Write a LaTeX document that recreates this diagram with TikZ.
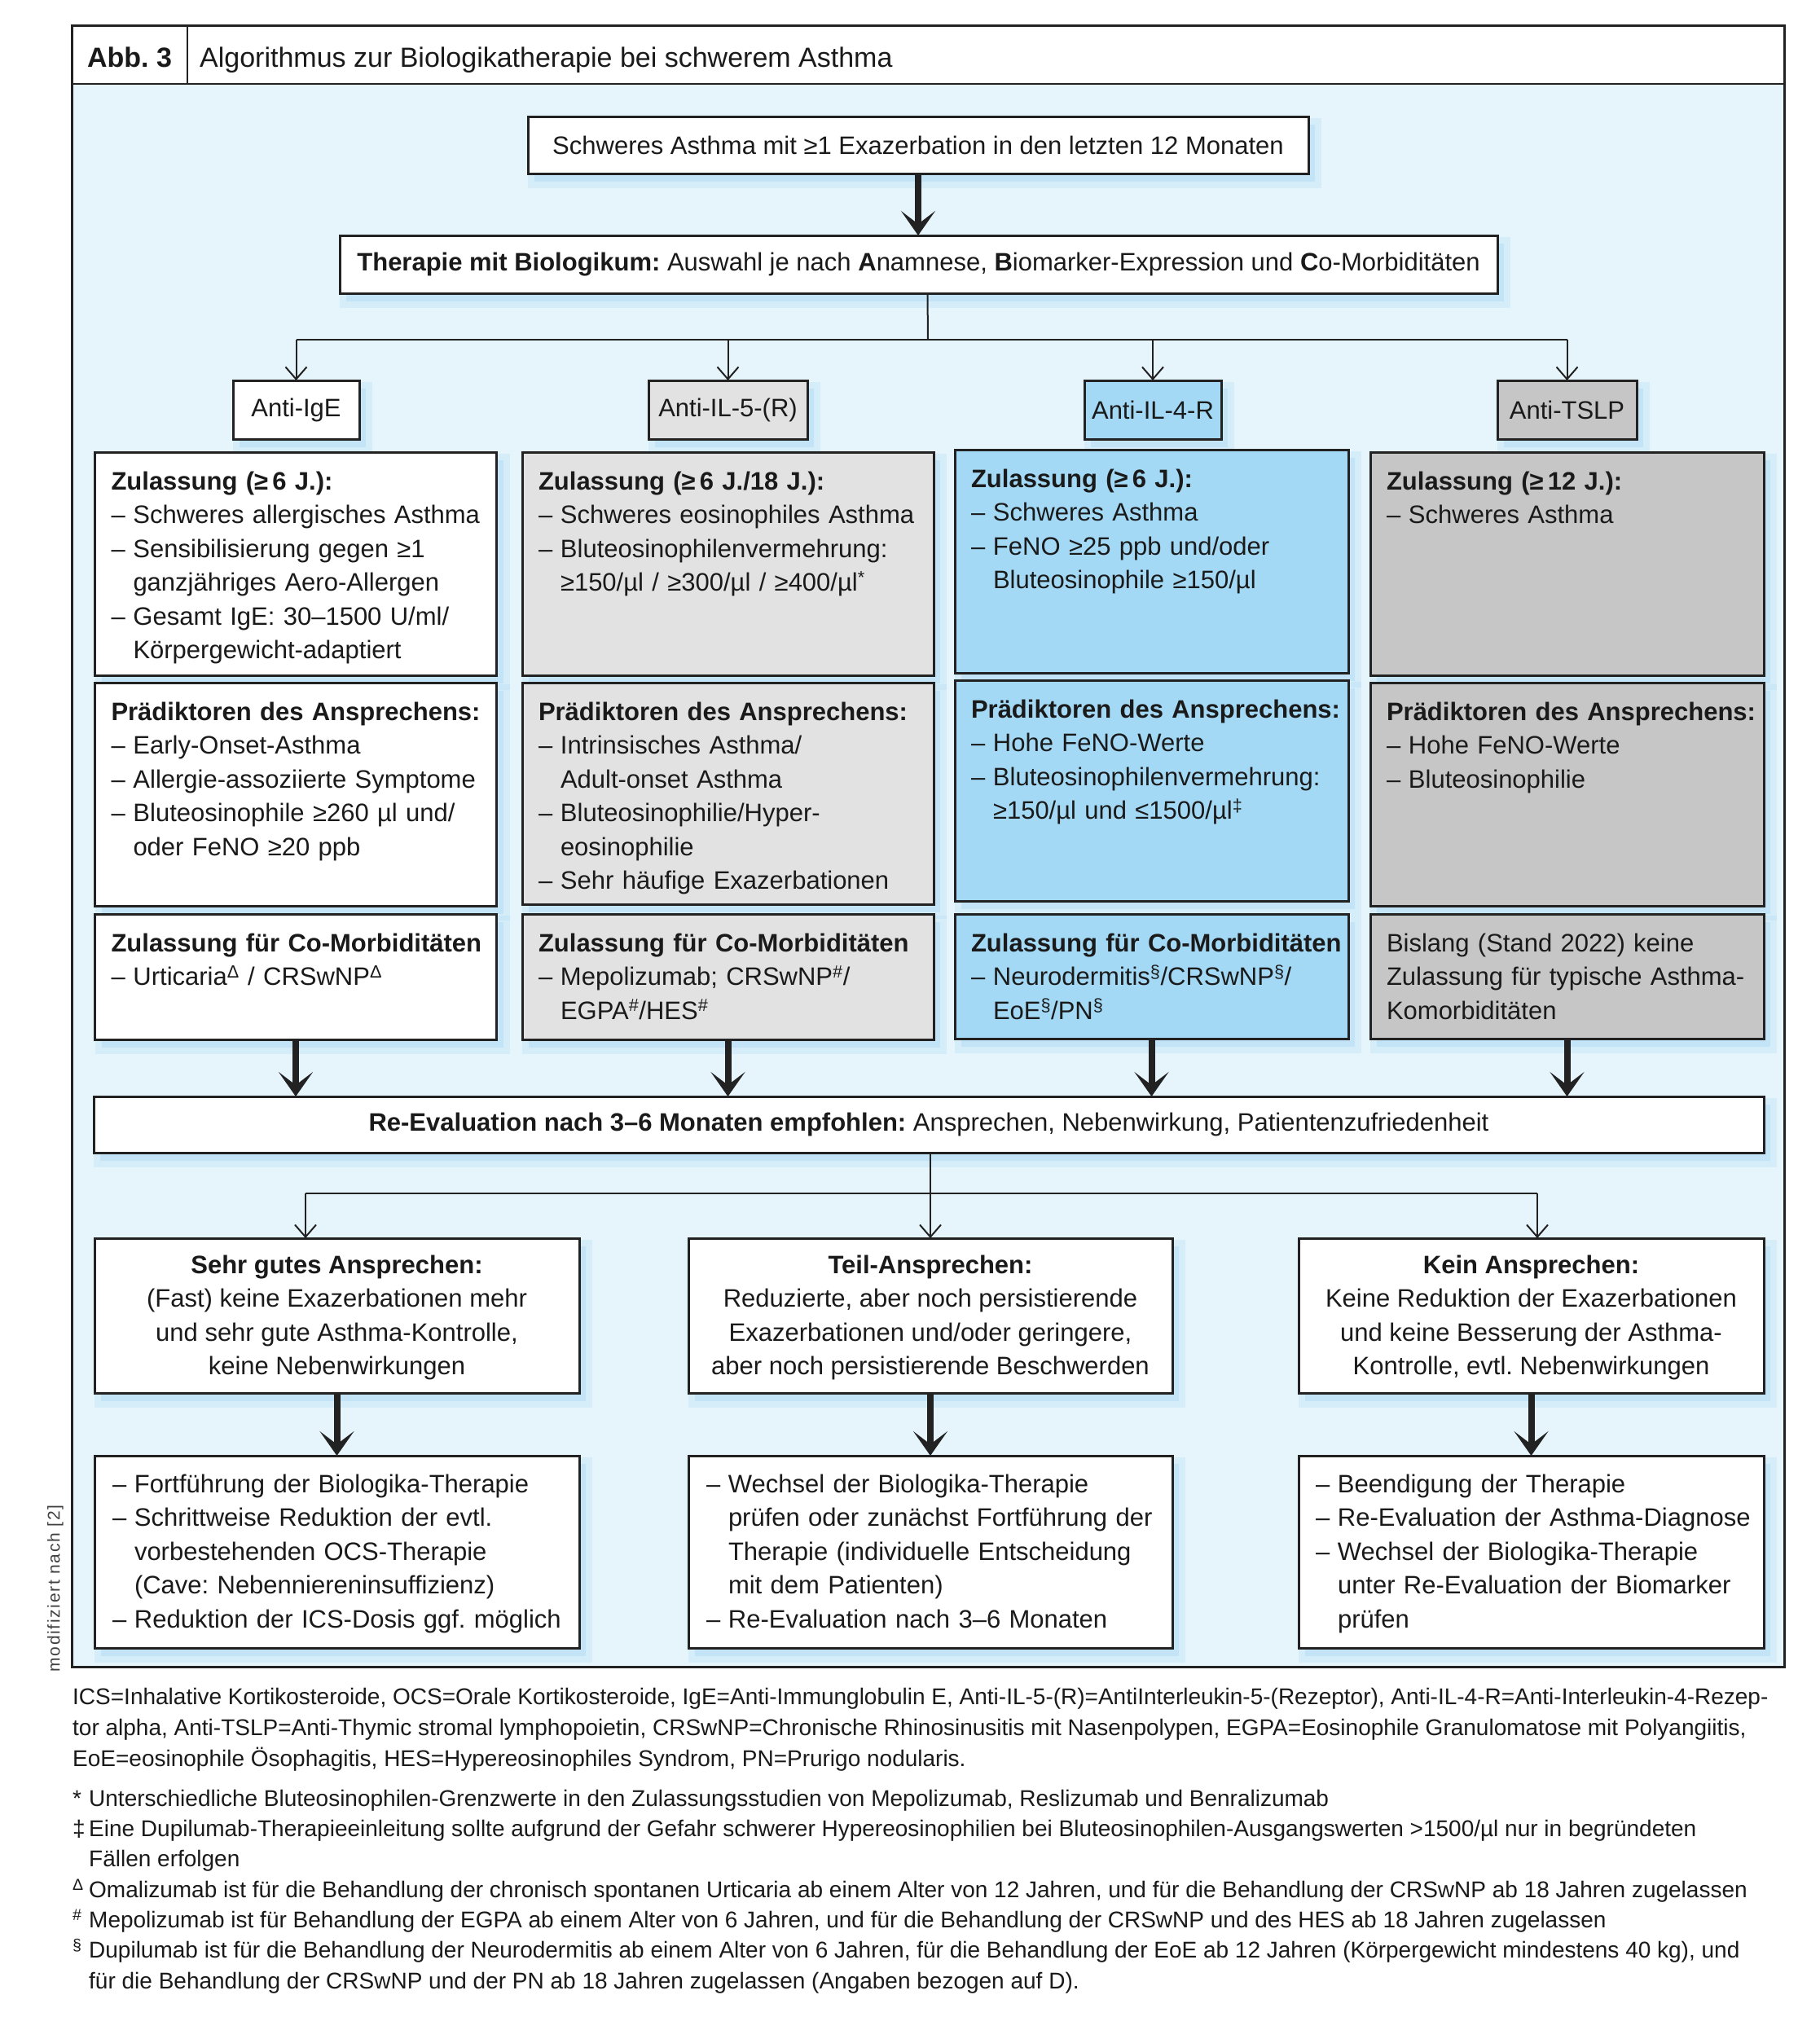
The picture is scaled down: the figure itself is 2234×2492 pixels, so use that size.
\documentclass[tikz,border=0pt]{standalone}
\usepackage{fontspec}
\setmainfont{Liberation Sans}
\newfontfamily\sidefont{Liberation Sans}[LetterSpace=8]
\usetikzlibrary{arrows.meta,calc}
\AtBeginDocument{\frenchspacing}
\definecolor{bodybg}{HTML}{E6F4FC}
\definecolor{shadowc}{HTML}{B8DFF6}
\definecolor{grayA}{HTML}{E2E2E2}
\definecolor{grayB}{HTML}{C6C6C6}
\definecolor{blueA}{HTML}{A3D9F5}
\definecolor{linec}{HTML}{222222}
\definecolor{txtc}{HTML}{1A1A1A}
\newcommand{\fl}{\rule{0pt}{30pt}}
\newcommand{\dl}{\makebox[27pt][l]{–}}
\newcommand{\il}{\hspace*{27pt}}
\newcommand{\sps}[1]{\textsuperscript{#1}}
\newcommand{\fsym}[1]{\makebox[20pt][l]{#1}}
\tikzset{
  shadowed/.style={
    preaction={draw=shadowc, draw opacity=0.35, line width=16pt, transform canvas={shift={(8pt,-10pt)}}},
    preaction={fill=shadowc, fill opacity=0.6, transform canvas={shift={(8pt,-10pt)}}}},
  bx/.style={draw=linec, line width=3pt, fill=white, inner sep=0pt, outer sep=0pt, anchor=north west, shadowed, font=\fontsize{31}{41.5}\selectfont, text=txtc},
  txt/.style={anchor=north west, inner sep=0pt, outer sep=0pt, align=left, text width=560pt, font=\fontsize{31}{41.5}\selectfont, text=txtc},
  ctxt/.style={anchor=north, inner sep=0pt, outer sep=0pt, align=center, font=\fontsize{31}{41.5}\selectfont, text=txtc},
  fn/.style={anchor=base west, inner sep=0pt, font=\fontsize{28}{37.5}\selectfont, text=txtc},
  conn/.style={draw=linec, line width=2pt},
  thinarr/.style={conn, -{Straight Barb[length=15pt,width=26pt]}},
  thickarr/.style={draw=linec, line width=8pt, -{Stealth[length=30pt,width=42pt,inset=16pt]}},
}
\newcommand{\colbox}[7]{%
  \node[bx, fill=#6, minimum width=#4pt, minimum height=#5pt] (#1) at (#2,#3) {};
  \node[txt] (#1t) at ($(#1.north west)+(20,16)$) {\fl#7};
}
\begin{document}
\begin{tikzpicture}[x=1pt,y=-1pt]
\useasboundingbox (0,0) rectangle (2234,2492);
\fill[white] (0,0) rectangle (2234,2492);
% frame
\fill[bodybg] (88,103) rectangle (2190,2046);
\draw[linec, line width=3pt] (88,31) rectangle (2190,2046);
\draw[linec, line width=2.5pt] (88,103) -- (2190,103);
\draw[linec, line width=2pt] (230,31) -- (230,103);
\node[anchor=base, font=\fontsize{34}{40}\selectfont\bfseries, text=txtc, inner sep=0pt] (abb) at (159,82) {Abb. 3};
\node[anchor=base west, font=\fontsize{34}{40}\selectfont, text=txtc, inner sep=0pt] (title) at (245,82) {Algorithmus zur Biologikatherapie bei schwerem Asthma};
\node[rotate=90, font=\sidefont\fontsize{21}{24}\selectfont, text=black!75, inner sep=0pt] (side) at (68,1950) {modifiziert nach [2]};

% top boxes
\node[bx, minimum width=958pt, minimum height=70pt] (b1) at (648,143) {Schweres Asthma mit ≥1 Exazerbation in den letzten 12 Monaten};
\node[bx, minimum width=1421pt, minimum height=71pt] (b2) at (417,289) {\textbf{Therapie mit Biologikum:} Auswahl je nach \textbf{A}namnese, \textbf{B}iomarker-Expression und \textbf{C}o-Morbiditäten};

% drug boxes
\node[bx, minimum width=155pt, minimum height=72pt] (a1) at (286,467) {Anti-IgE};
\node[bx, fill=grayA, minimum width=195pt, minimum height=72pt] (a2) at (796,467) {Anti-IL-5-(R)};
\node[bx, fill=blueA, minimum width=168pt, minimum height=72pt] (a3) at (1331,467) {Anti-IL-4-R};
\node[bx, fill=grayB, minimum width=171pt, minimum height=72pt] (a4) at (1838,467) {Anti-TSLP};

% column 1
\colbox{c1a}{116.5}{555}{493}{274}{white}{\textbf{Zulassung (≥\,6 J.):}\\\dl Schweres allergisches Asthma\\\dl Sensibilisierung gegen ≥1\\\il ganzjähriges Aero-Allergen\\\dl Gesamt IgE: 30–1500 U/ml/\\\il Körpergewicht-adaptiert}
\colbox{c1b}{116.5}{838}{493}{274}{white}{\textbf{Prädiktoren des Ansprechens:}\\\dl Early-Onset-Asthma\\\dl Allergie-assoziierte Symptome\\\dl Bluteosinophile ≥260 µl und/\\\il oder FeNO ≥20 ppb}
\colbox{c1c}{116.5}{1122}{493}{154}{white}{\textbf{Zulassung für Co-Morbiditäten}\\\dl Urticaria\sps{Δ} / CRSwNP\sps{Δ}}
% column 2
\colbox{c2a}{641}{555}{505}{274}{grayA}{\textbf{Zulassung (≥\,6 J./18 J.):}\\\dl Schweres eosinophiles Asthma\\\dl Bluteosinophilenvermehrung:\\\il ≥150/µl / ≥300/µl / ≥400/µl\sps{*}}
\colbox{c2b}{641}{838}{505}{272}{grayA}{\textbf{Prädiktoren des Ansprechens:}\\\dl Intrinsisches Asthma/\\\il Adult-onset Asthma\\\dl Bluteosinophilie/Hyper-\\\il eosinophilie\\\dl Sehr häufige Exazerbationen}
\colbox{c2c}{641}{1122}{505}{154}{grayA}{\textbf{Zulassung für Co-Morbiditäten}\\\dl Mepolizumab; CRSwNP\sps{\#}/\\\il EGPA\sps{\#}/HES\sps{\#}}
% column 3
\colbox{c3a}{1172}{552}{483}{274}{blueA}{\textbf{Zulassung (≥\,6 J.):}\\\dl Schweres Asthma\\\dl FeNO ≥25 ppb und/oder\\\il Bluteosinophile ≥150/µl}
\colbox{c3b}{1172}{835}{483}{271}{blueA}{\textbf{Prädiktoren des Ansprechens:}\\\dl Hohe FeNO-Werte\\\dl Bluteosinophilenvermehrung:\\\il ≥150/µl und ≤1500/µl\sps{‡}}
\colbox{c3c}{1172}{1122}{483}{153}{blueA}{\textbf{Zulassung für Co-Morbiditäten}\\\dl Neurodermitis\sps{§}/CRSwNP\sps{§}/\\\il EoE\sps{§}/PN\sps{§}}
% column 4
\colbox{c4a}{1682}{555}{483}{274}{grayB}{\textbf{Zulassung (≥\,12 J.):}\\\dl Schweres Asthma}
\colbox{c4b}{1682}{838}{483}{274}{grayB}{\textbf{Prädiktoren des Ansprechens:}\\\dl Hohe FeNO-Werte\\\dl Bluteosinophilie}
\colbox{c4c}{1682}{1122}{483}{153}{grayB}{Bislang (Stand 2022) keine\\Zulassung für typische Asthma-\\Komorbiditäten}

% re-evaluation
\node[bx, minimum width=2050pt, minimum height=69pt] (re) at (115,1346) {\textbf{Re-Evaluation nach 3–6 Monaten empfohlen:} Ansprechen, Nebenwirkung, Patientenzufriedenheit};

% response boxes
\node[bx, minimum width=595pt, minimum height=190pt] (rA) at (116,1520) {};
\node[ctxt] (rAt) at ($(rA.north)+(0,13)$) {\fl\textbf{Sehr gutes Ansprechen:}\\(Fast) keine Exazerbationen mehr\\und sehr gute Asthma-Kontrolle,\\keine Nebenwirkungen};
\node[bx, minimum width=594pt, minimum height=190pt] (rB) at (845,1520) {};
\node[ctxt] (rBt) at ($(rB.north)+(0,13)$) {\fl\textbf{Teil-Ansprechen:}\\Reduzierte, aber noch persistierende\\Exazerbationen und/oder geringere,\\aber noch persistierende Beschwerden};
\node[bx, minimum width=571pt, minimum height=190pt] (rC) at (1594,1520) {};
\node[ctxt] (rCt) at ($(rC.north)+(0,13)$) {\fl\textbf{Kein Ansprechen:}\\Keine Reduktion der Exazerbationen\\und keine Besserung der Asthma-\\Kontrolle, evtl. Nebenwirkungen};

% action boxes
\node[bx, minimum width=595pt, minimum height=236pt] (dA) at (116,1787) {};
\node[txt] (dAt) at ($(dA.north west)+(22,15)$) {\fl\dl Fortführung der Biologika-Therapie\\\dl Schrittweise Reduktion der evtl.\\\il vorbestehenden OCS-Therapie\\\il (Cave: Nebenniereninsuffizienz)\\\dl Reduktion der ICS-Dosis ggf. möglich};
\node[bx, minimum width=594pt, minimum height=236pt] (dB) at (845,1787) {};
\node[txt] (dBt) at ($(dB.north west)+(22,15)$) {\fl\dl Wechsel der Biologika-Therapie\\\il prüfen oder zunächst Fortführung der\\\il Therapie (individuelle Entscheidung\\\il mit dem Patienten)\\\dl Re-Evaluation nach 3–6 Monaten};
\node[bx, minimum width=571pt, minimum height=236pt] (dC) at (1594,1787) {};
\node[txt] (dCt) at ($(dC.north west)+(21,15)$) {\fl\dl Beendigung der Therapie\\\dl Re-Evaluation der Asthma-Diagnose\\\dl Wechsel der Biologika-Therapie\\\il unter Re-Evaluation der Biomarker\\\il prüfen};

% connectors
\draw[thickarr] (b1.south) -- (b1.south |- b2.north);
\coordinate (j1) at (1139,417);
\draw[conn] ([xshift=11pt]b2.south) -- (j1);
\draw[conn] (a1.north |- j1) -- (a4.north |- j1);
\draw[thinarr] (a1.north |- j1) -- (a1.north);
\draw[thinarr] (a2.north |- j1) -- (a2.north);
\draw[thinarr] (a3.north |- j1) -- (a3.north);
\draw[thinarr] (a4.north |- j1) -- (a4.north);

\draw[thickarr] (c1c.south) -- (c1c.south |- re.north);
\draw[thickarr] (c2c.south) -- (c2c.south |- re.north);
\draw[thickarr] (c3c.south) -- (c3c.south |- re.north);
\draw[thickarr] (c4c.south) -- (c4c.south |- re.north);

\coordinate (j2) at (1142,1465);
\coordinate (ja) at (375,1465);
\coordinate (jc) at (1887,1465);
\draw[conn] (re.south -| j2) -- (j2);
\draw[conn] (ja) -- (jc);
\draw[thinarr] (ja) -- (ja |- rA.north);
\draw[thinarr] (j2) -- (j2 |- rB.north);
\draw[thinarr] (jc) -- (jc |- rC.north);

\draw[thickarr] (rA.south) -- (rA.south |- dA.north);
\draw[thickarr] (rB.south) -- (rB.south |- dB.north);
\draw[thickarr] (rC.south) -- (rC.south |- dC.north);

% footnotes
\node[fn] (f1) at (89,2092) {ICS=Inhalative Kortikosteroide, OCS=Orale Kortikosteroide, IgE=Anti-Immunglobulin E, Anti-IL-5-(R)=AntiInterleukin-5-(Rezeptor), Anti-IL-4-R=Anti-Interleukin-4-Rezep-};
\node[fn] (f2) at (89,2130) {tor alpha, Anti-TSLP=Anti-Thymic stromal lymphopoietin, CRSwNP=Chronische Rhinosinusitis mit Nasenpolypen, EGPA=Eosinophile Granulomatose mit Polyangiitis,};
\node[fn] (f3) at (89,2168) {EoE=eosinophile Ösophagitis, HES=Hypereosinophiles Syndrom, PN=Prurigo nodularis.};
\node[fn] (f4) at (89,2217) {\fsym{*}Unterschiedliche Bluteosinophilen-Grenzwerte in den Zulassungsstudien von Mepolizumab, Reslizumab und Benralizumab};
\node[fn] (f5) at (89,2254) {\fsym{‡}Eine Dupilumab-Therapieeinleitung sollte aufgrund der Gefahr schwerer Hypereosinophilien bei Bluteosinophilen-Ausgangswerten >1500/µl nur in begründeten};
\node[fn] (f6) at (89,2291) {\fsym{}Fällen erfolgen};
\node[fn] (f7) at (89,2329) {\fsym{\sps{Δ}}Omalizumab ist für die Behandlung der chronisch spontanen Urticaria ab einem Alter von 12 Jahren, und für die Behandlung der CRSwNP ab 18 Jahren zugelassen};
\node[fn] (f8) at (89,2366) {\fsym{\sps{\#}}Mepolizumab ist für Behandlung der EGPA ab einem Alter von 6 Jahren, und für die Behandlung der CRSwNP und des HES ab 18 Jahren zugelassen};
\node[fn] (f9) at (89,2403) {\fsym{\sps{§}}Dupilumab ist für die Behandlung der Neurodermitis ab einem Alter von 6 Jahren, für die Behandlung der EoE ab 12 Jahren (Körpergewicht mindestens 40 kg), und};
\node[fn] (f10) at (89,2441) {\fsym{}für die Behandlung der CRSwNP und der PN ab 18 Jahren zugelassen (Angaben bezogen auf D).};
\end{tikzpicture}
\end{document}
